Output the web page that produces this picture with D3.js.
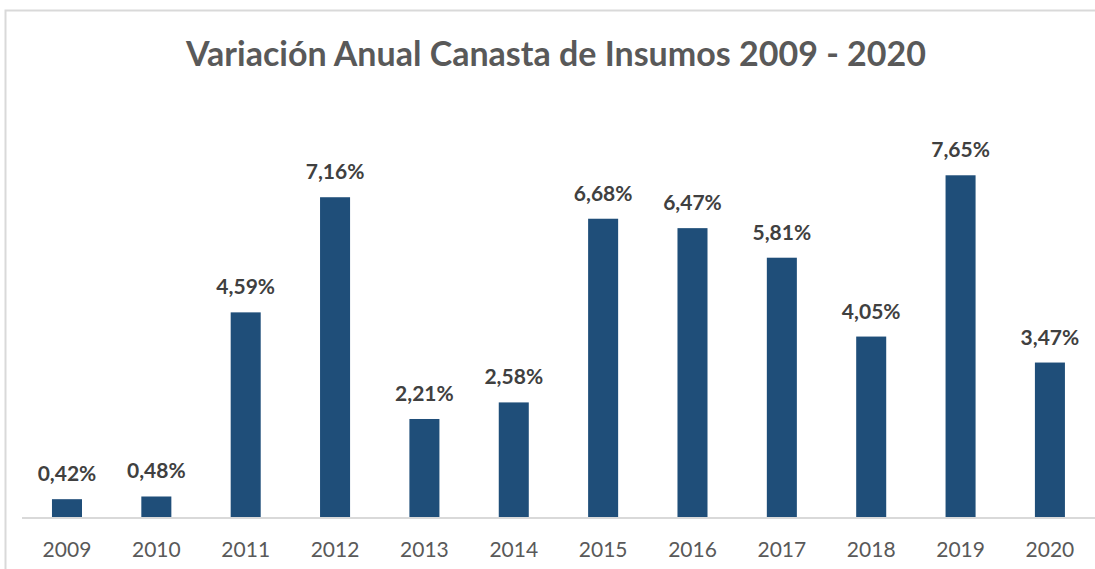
<!DOCTYPE html>
<html lang="es">
	<head>
		<meta charset="utf-8">
		<title>Variación Anual Canasta de Insumos</title>
		<script src="https://d3js.org/d3.v7.min.js"></script>
		<style type="text/css">
			body { margin: 0; background: #fff; }
			svg { display: block; font-family: Lato, "Open Sans", sans-serif; }
		</style>
	</head>
	<body>
<div id="chart"></div>
		<script type="text/javascript">
// data
var years = ["2009", "2010", "2011", "2012", "2013", "2014", "2015", "2016", "2017", "2018", "2019", "2020"];
var variacion = [0.42, 0.48, 4.59, 7.16, 2.21, 2.58, 6.68, 6.47, 5.81, 4.05, 7.65, 3.47];
var titulo = "Variación Anual Canasta de Insumos 2009 - 2020";

//Width and height
var w = 1095;
var h = 569;
var baseY = 518;

var svg = d3.select("#chart")
			.append("svg")
			.attr("width", w)
			.attr("height", h);

// chart frame
svg.append("path")
	.attr("d", "M5.5," + h + "V10.5H" + w)
	.attr("fill", "none")
	.attr("stroke", "#d9d9d9")
	.attr("stroke-width", 2);

var xScale = d3.scaleBand()
			 .domain(years)
			 .range([22.3, 1094.6])
			 .paddingInner(0.664)
			 .paddingOuter(0.332);

var yScale = d3.scaleLinear()
			 .domain([0, 9])
			 .range([baseY, baseY - 9 * 44.8]);

// title
svg.append("text")
	.attr("x", 556)
	.attr("y", 66)
	.attr("text-anchor", "middle")
	.attr("font-size", 34)
	.attr("font-weight", "bold")
	.attr("fill", "#595959")
	.text(titulo);

var data = years.map((y, i) => ({year: y, value: variacion[i]}));

// bars
svg.selectAll("rect.bar")
	.data(data)
	.enter()
	.append("rect")
	.attr("class", "bar")
	.attr("x", d => xScale(d.year))
	.attr("y", d => yScale(d.value))
	.attr("width", xScale.bandwidth())
	.attr("height", d => baseY - yScale(d.value))
	.attr("fill", "#1f4e79");

// x axis
var xAxis = d3.axisBottom(xScale).tickSize(0).tickPadding(0);
var gx = svg.append("g")
	.attr("transform", "translate(0," + baseY + ")")
	.call(xAxis);
gx.select(".domain").attr("stroke", "#d9d9d9").attr("stroke-width", 2)
	.attr("d", "M22,0H" + w);
gx.selectAll("text")
	.attr("y", 39)
	.attr("dy", null)
	.attr("font-family", "Lato, sans-serif")
	.attr("font-size", 21)
	.attr("fill", "#595959");

// labels
svg.selectAll("text.lbl")
	.data(data)
	.enter()
	.append("text")
	.attr("class", "lbl")
	.attr("x", d => xScale(d.year) + xScale.bandwidth() / 2)
	.attr("y", d => yScale(d.value) - 18)
	.attr("text-anchor", "middle")
	.attr("font-size", 21)
	.attr("font-weight", "bold")
	.attr("fill", "#404040")
	.text(d => d3.format(".2f")(d.value).replace(".", ",") + "%");
		</script>
	</body>
</html>
